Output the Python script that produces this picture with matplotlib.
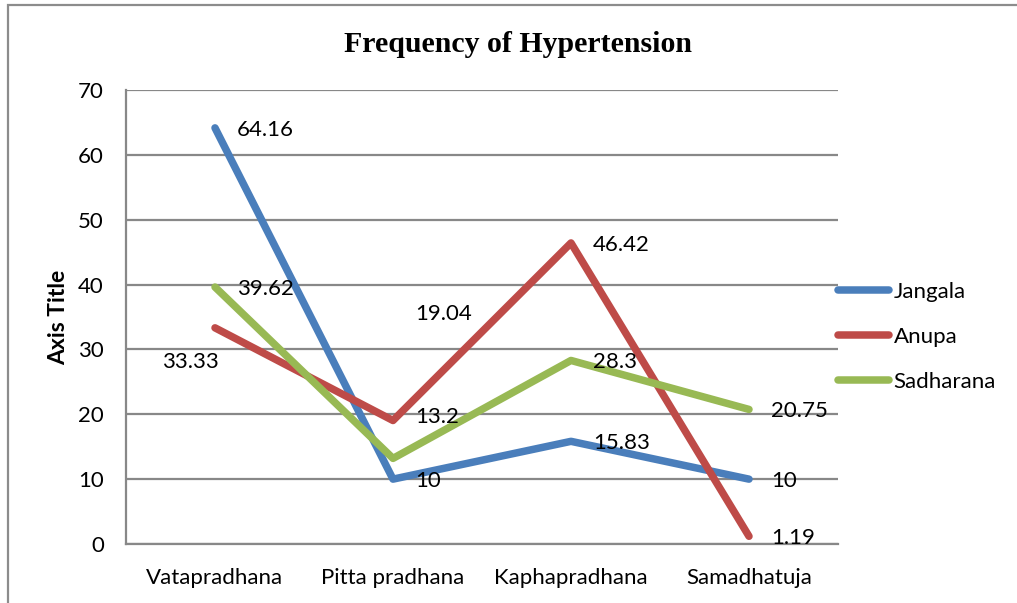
import matplotlib
matplotlib.use("Agg")
import matplotlib.pyplot as plt
from matplotlib.patches import Rectangle

categories = ["Vatapradhana", "Pitta pradhana", "Kaphapradhana", "Samadhatuja"]
jangala = [64.16, 10, 15.83, 10]
anupa = [33.33, 19.04, 46.42, 1.19]
sadharana = [39.62, 13.2, 28.3, 20.75]
series_names = ["Jangala", "Anupa", "Sadharana"]
y_ticks = [0, 10, 20, 30, 40, 50, 60, 70]

colors = ["#4A7EBB", "#BE4B48", "#98B954"]
sans = "Lato"
fs = 16

fig = plt.figure(figsize=(10.17, 6.03), dpi=100)
ax = fig.add_axes([126 / 1017, 59 / 603, 712 / 1017, 454 / 603])

x = list(range(len(categories)))
series = [jangala, anupa, sadharana]
for vals, name, c in zip(series, series_names, colors):
    ax.plot(x, vals, color=c, lw=5.4, solid_capstyle="round",
            solid_joinstyle="round", label=name, zorder=3)

ax.set_xlim(-0.5, len(categories) - 0.5)
ax.set_ylim(0, 70)
ax.set_yticks(y_ticks)
ax.set_xticks(x)
ax.set_xticklabels(categories, fontsize=fs, family=sans)
ax.set_yticklabels([str(v) for v in y_ticks], fontsize=fs, family=sans)
ax.tick_params(length=0)
ax.tick_params(axis="y", pad=16)
ax.tick_params(axis="x", pad=17)
ax.grid(axis="y", color="#888888", lw=1.6, zorder=0)
for side in ("top", "right"):
    ax.spines[side].set_visible(False)
for side in ("left", "bottom"):
    ax.spines[side].set_color("#888888")
    ax.spines[side].set_linewidth(1.6)

ax.set_ylabel("Axis Title", fontsize=16.5, fontweight="bold", family=sans, labelpad=6)

# value labels: default to the right of each point, a few moved by hand
# keys are (category index, series index)
offsets = {
    (0, 1): dict(dx=4, dy=-34, ha="right"),
    (1, 1): dict(dx=22, dy=107, ha="left"),
    (1, 2): dict(dx=22, dy=41, ha="left"),
}
for si, vals in enumerate(series):
    for ci, v in enumerate(vals):
        o = offsets.get((ci, si), dict(dx=22, dy=-2, ha="left"))
        ax.annotate(f"{v:g}", (ci, v), xytext=(o["dx"], o["dy"]),
                    textcoords="offset pixels", ha=o["ha"], va="center",
                    fontsize=fs, family=sans, zorder=4)

leg = ax.legend(loc="center left", bbox_to_anchor=(1.0, (544 - 337) / 454),
                frameon=False, prop={"family": sans, "size": fs},
                handlelength=2.3, handletextpad=0.2, labelspacing=1.12,
                borderaxespad=0, borderpad=0)

fig.suptitle("Frequency of Hypertension", x=518 / 1017, y=1 - 44 / 603,
             va="center", fontsize=21.5, fontweight="bold",
             family="Liberation Serif")

fig.add_artist(Rectangle((8 / 1017, -0.05), 1.2, 1 - 5 / 603 + 0.05,
                         transform=fig.transFigure, fill=False,
                         edgecolor="#8C8C8C", lw=1.6))

fig.savefig("out.png", dpi=100)
